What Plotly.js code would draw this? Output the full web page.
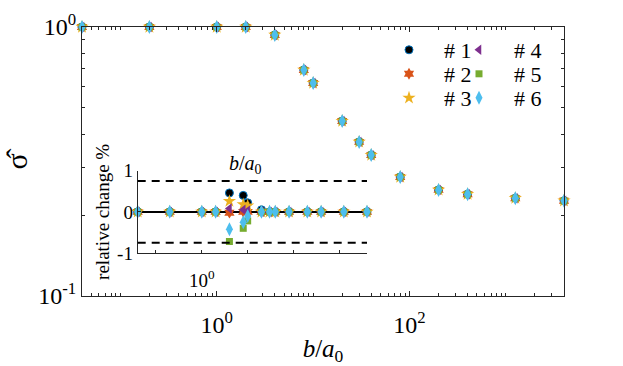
<!DOCTYPE html>
<html>
<head>
<meta charset="utf-8">
<script src="https://cdn.plot.ly/plotly-3.0.1.min.js"></script>
<style>
  html, body { margin: 0; padding: 0; background: #fff; }
  #chart { width: 623px; height: 366px; }
</style>
</head>
<body>
<div id="chart"></div>
<script>
// b/a0 values shared by all runs
const bRatio = [0.04, 0.2, 1, 2, 4, 8, 10, 20, 30, 40, 80, 200, 400, 1250, 4000];
// normalised sigma (the six runs overlap in the main panel)
const sigmaHat = [1, 1, 1, 1, 0.934, 0.692, 0.619, 0.447, 0.374, 0.334, 0.277, 0.248, 0.239, 0.231, 0.226];
// relative change in % for each run (inset)
const rel1 = [0, 0, 0, 0, 0.46, 0.40, 0.22, 0.05, 0, 0, 0, 0, 0, 0, 0];
const rel2 = [0, 0, 0, 0, -0.02, 0.0, 0.0, 0, 0, 0, 0, 0, 0, 0, 0];
const rel3 = [0, 0, 0, 0, 0.26, 0.18, 0.15, 0, 0, 0, 0, 0, 0, 0, 0];
const rel4 = [0, 0, 0, 0, 0.08, 0.05, 0.03, 0, 0, 0, 0, 0, 0, 0, 0];
const rel5 = [0, 0, 0, 0, -0.72, -0.40, -0.22, 0, 0, 0, 0, 0, 0, 0, 0];
const rel6 = [0, 0, 0, 0, -0.42, -0.25, -0.10, 0, 0, 0, 0, 0, 0, 0, 0];
const threshold = 0.75;
const runNames = ['# 1', '# 2', '# 3', '# 4', '# 5', '# 6'];

const W = 623, H = 366;
const FONT = 'Liberation Serif';
const AX = '#262626';

const styles = [
  { symbol: 'circle', size: 8, color: '#000000', line: { color: '#0072BD', width: 1 } },
  { symbol: 'hexagram', size: 9, color: '#D95319', line: { width: 0 } },
  { symbol: 'star', size: 10, color: '#EDB120', line: { width: 0 } },
  { symbol: 'triangle-left', size: 9, color: '#7E2F8E', line: { width: 0 } },
  { symbol: 'square', size: 7, color: '#77AC30', line: { width: 0 } },
  { symbol: 'diamond-tall', size: 10, color: '#4DBEEE', line: { width: 0 } },
];
const rels = [rel1, rel2, rel3, rel4, rel5, rel6];
const legendIds = ['legend', 'legend2', 'legend3', 'legend4', 'legend5', 'legend6'];

const traces = [];
styles.forEach((s, i) => {
  traces.push({
    x: bRatio, y: sigmaHat,
    type: 'scatter', mode: 'markers',
    name: runNames[i],
    legend: legendIds[i],
    cliponaxis: false,
    marker: { symbol: s.symbol, size: s.size, color: s.color, line: s.line },
    xaxis: 'x', yaxis: 'y',
    hoverinfo: 'skip',
  });
});
styles.forEach((s, i) => {
  traces.push({
    x: bRatio, y: rels[i],
    type: 'scatter', mode: 'markers',
    showlegend: false,
    cliponaxis: false,
    marker: { symbol: s.symbol, size: s.size, color: s.color, line: s.line },
    xaxis: 'x2', yaxis: 'y2',
    hoverinfo: 'skip',
  });
});

const lx = v => v / W;
const ly = v => 1 - v / H;
const logRange = [Math.log10(bRatio[0]), Math.log10(bRatio[bRatio.length - 1])];

// legend grid: 3 rows x 2 columns, column-major like the original
function legendCell(i) {
  const col = Math.floor(i / 3), row = i % 3;
  return {
    x: lx(374 + col * 70), y: ly(50 + row * 24), xanchor: 'left', yanchor: 'middle',
    bgcolor: 'rgba(0,0,0,0)', borderwidth: 0,
    itemwidth: 60,
    font: { family: FONT, size: 22 },
  };
}

const layout = {
  width: W, height: H,
  margin: { l: 0, r: 0, t: 0, b: 0 },
  paper_bgcolor: '#fff',
  plot_bgcolor: '#fff',
  font: { family: FONT, color: '#000', size: 20 },
  showlegend: true,
  xaxis: {
    type: 'log', domain: [lx(82), lx(564)], range: logRange, anchor: 'y',
    showline: true, linecolor: AX, linewidth: 1, mirror: 'ticks',
    ticks: 'inside', ticklen: 5, tickcolor: AX,
    tickvals: [1, 100], ticktext: ['10<sup>0</sup>', '10<sup>2</sup>'],
    ticklabelstandoff: 7,
    tickfont: { family: FONT, size: 24 },
    minor: { ticks: 'inside', ticklen: 3, dtick: 'D1', tickcolor: AX },
    showgrid: false, zeroline: false,
    title: { text: '<i>b</i>/<i>a</i><sub>0</sub>', font: { family: FONT, size: 25 }, standoff: 5 },
    automargin: false,
  },
  yaxis: {
    type: 'log', domain: [ly(296), ly(27)], range: [-1, 0], anchor: 'x',
    showline: true, linecolor: AX, linewidth: 1, mirror: 'ticks',
    ticks: 'inside', ticklen: 5, tickcolor: AX,
    tickvals: [0.1, 1], ticktext: ['10<sup>-1</sup>', '10<sup>0</sup>'],
    tickfont: { family: FONT, size: 24 },
    minor: { ticks: 'inside', ticklen: 3, dtick: 'D1', tickcolor: AX },
    showgrid: false, zeroline: false,
    title: { text: 'σ̂', font: { family: FONT, size: 30 }, standoff: 10 },
    automargin: false,
  },
  xaxis2: {
    type: 'log', domain: [lx(137.7), lx(367)], range: logRange, anchor: 'y2',
    showline: true, linecolor: AX, linewidth: 1,
    ticks: 'inside', ticklen: 3, tickcolor: AX,
    tickvals: [1], ticktext: ['10<sup>0</sup>'],
    ticklabelstandoff: 10,
    tickfont: { family: FONT, size: 19 },
    minor: { ticks: 'inside', ticklen: 3, dtick: 1, tickcolor: AX },
    showgrid: false, zeroline: false,
    automargin: false,
  },
  yaxis2: {
    domain: [ly(253), ly(170.7)], range: [-1, 1], anchor: 'x2',
    showline: true, linecolor: AX, linewidth: 1,
    ticks: 'inside', ticklen: 3, tickcolor: AX,
    tickvals: [-1, 0, 1], ticktext: ['-1', '0', '1'],
    tickfont: { family: FONT, size: 19 },
    showgrid: false,
    zeroline: true, zerolinecolor: '#000', zerolinewidth: 1.5,
    title: { text: 'relative change %', font: { family: FONT, size: 19 }, standoff: 2 },
    automargin: false,
  },
  shapes: [threshold, -threshold].map(v => ({
    type: 'line', xref: 'x2 domain', yref: 'y2',
    x0: 0, x1: 1, y0: v, y1: v,
    line: { color: '#000', width: 2, dash: '8px,6px' },
    layer: 'above',
  })),
  annotations: [{
    text: '<i>b</i>/<i>a</i><sub>0</sub>', xref: 'x2 domain', yref: 'y2 domain',
    x: 0.47, y: 1.08, xanchor: 'center', yanchor: 'middle',
    showarrow: false, font: { family: FONT, size: 20 },
  }],
};
legendIds.forEach((id, i) => { layout[id] = legendCell(i); });

Plotly.newPlot('chart', traces, layout, { displayModeBar: false, staticPlot: true });
</script>
</body>
</html>
